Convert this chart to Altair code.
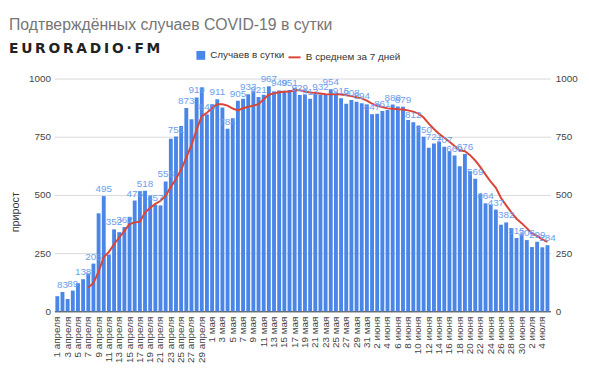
import altair as alt
import pandas as pd

months = [("апреля", 30), ("мая", 31), ("июня", 30), ("июля", 5)]
dates = [f"{d} {m}" for m, n in months for d in range(1, n + 1)]

cases = [
    65, 83, 53, 89, 121, 138, 163, 205, 421, 495,
    244, 352, 340, 362, 406, 476, 516, 518, 497, 457,
    455, 558, 741, 751, 796, 873, 825, 919, 962, 846,
    890, 911, 876, 784, 829, 905, 913, 933, 945, 921,
    930, 967, 945, 949, 948, 951, 960, 929, 930, 913,
    936, 932, 930, 954, 940, 915, 892, 908, 900, 894,
    887, 847, 849, 861, 865, 888, 880, 879, 822, 812,
    798, 750, 703, 721, 730, 707, 689, 669, 623, 676,
    602, 569, 506, 464, 457, 437, 372, 382, 358, 315,
    331, 306, 276, 299, 275, 284,
]

series_bar = "Случаев в сутки"
series_line = "В среднем за 7 дней"
y_ticks = [0, 250, 500, 750, 1000]

df = pd.DataFrame({
    "idx": list(range(len(dates))),
    "date": dates,
    "cases": cases,
    "s1": series_bar,
    "s2": series_line,
})

FONT = "Liberation Sans"
BLUE = "#4a86e8"
RED = "#db4437"

x_enc = alt.X(
    "date:N",
    scale=alt.Scale(domain=dates, paddingInner=0.25, paddingOuter=0.2),
    axis=alt.Axis(
        values=dates[::2], labelAngle=-90, labelFontSize=10, labelFont=FONT,
        labelColor="#444444", ticks=False, domainColor="#333333",
        labelPadding=5, labelOverlap=False, title=None,
    ),
)

base = alt.Chart(df)

bars = base.mark_bar().encode(
    x=x_enc,
    y=alt.Y(
        "cases:Q",
        scale=alt.Scale(domain=[0, 1000]),
        axis=alt.Axis(
            values=y_ticks, format="d", title="прирост", titleFont=FONT,
            titleFontSize=11, titleFontWeight="normal", titleColor="#333333",
            titlePadding=8, titleY=135, labelFont=FONT, labelFontSize=10,
            labelColor="#444444", grid=True, gridColor="#d9d9d9",
            domain=False, ticks=False, labelPadding=4,
        ),
    ),
    color=alt.Color(
        "s1:N",
        scale=alt.Scale(domain=[series_bar], range=[BLUE]),
        legend=alt.Legend(
            orient="none", legendX=143, legendY=-29, title=None,
            symbolType="square", symbolSize=80, labelFont=FONT,
            labelFontSize=10, labelColor="#333333", padding=0,
        ),
    ),
)

line = base.transform_window(
    avg="mean(cases)", frame=[-6, 0], sort=[alt.SortField("idx")]
).transform_filter("datum.idx >= 6").mark_line(strokeWidth=2).encode(
    x=x_enc,
    y=alt.Y(
        "avg:Q",
        scale=alt.Scale(domain=[0, 1000]),
        axis=alt.Axis(
            orient="right", values=y_ticks, format="d", title=None,
            labelFont=FONT, labelFontSize=10, labelColor="#444444",
            grid=False, domain=False, ticks=False, labelPadding=5,
        ),
    ),
    color=alt.Color(
        "s2:N",
        scale=alt.Scale(domain=[series_line], range=[RED]),
        legend=alt.Legend(
            orient="none", legendX=236, legendY=-29, title=None,
            symbolType="stroke", symbolSize=150, symbolStrokeWidth=2,
            labelFont=FONT, labelFontSize=10, labelColor="#333333", padding=0,
        ),
    ),
)

labels = base.transform_filter("datum.idx % 2 == 1").mark_text(
    baseline="bottom", dy=-2, fontSize=10, font=FONT, color="#6d9eeb"
).encode(
    x=x_enc,
    y=alt.Y("cases:Q", scale=alt.Scale(domain=[0, 1000]), axis=None),
    text=alt.Text("cases:Q"),
)

chart = alt.layer(bars, line, labels).resolve_scale(
    color="independent"
).resolve_axis(
    y="independent"
).properties(
    width=503,
    height=236,
    padding={"left": 47, "top": 69, "right": 31, "bottom": 59},
    autosize=alt.AutoSizeParams(type="none"),
    title=alt.TitleParams(
        text="Подтверждённых случаев COVID-19 в сутки",
        subtitle="E\u2009U\u2009R\u2009O\u2009R\u2009A\u2009D\u2009I\u2009O\u2009·\u2009F\u2009M",
        anchor="start", frame="group", dx=-46, offset=-6,
        font=FONT, fontSize=16, fontWeight="normal", color="#757575",
        subtitleFont="DejaVu Sans", subtitleFontSize=14,
        subtitleFontWeight="bold", subtitleColor="#222222", subtitlePadding=9,
    ),
).configure_view(stroke=None)

chart.save("out.html", embed_options={"renderer": "svg", "actions": False})
